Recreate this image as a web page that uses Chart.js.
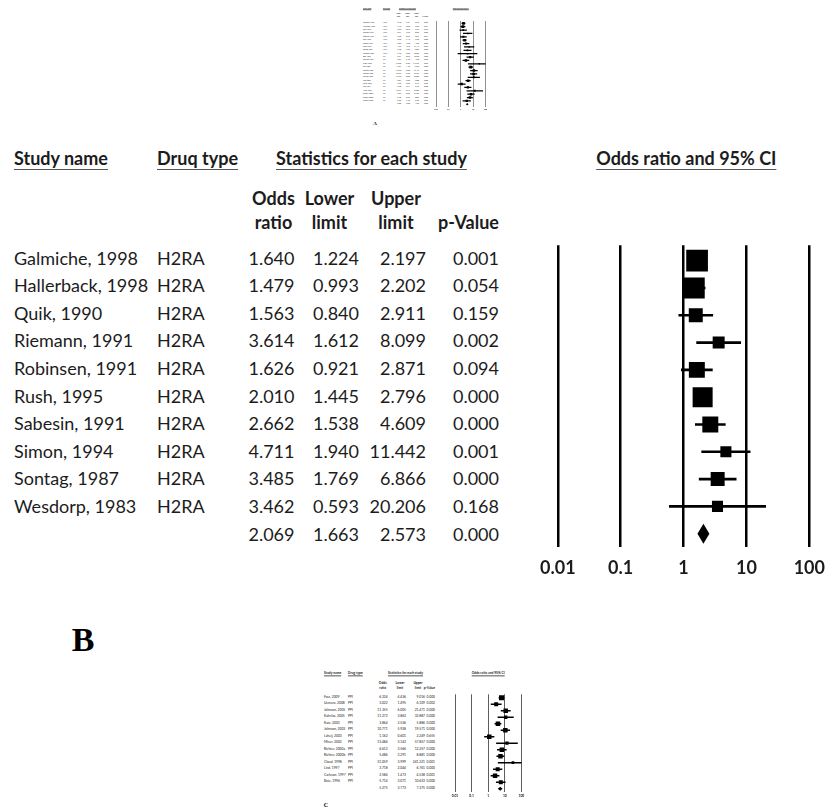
<!DOCTYPE html>
<html>
<head>
<meta charset="utf-8">
<script src="https://cdn.jsdelivr.net/npm/chart.js@4.4.1/dist/chart.umd.min.js"></script>
<style>
html, body { margin: 0; padding: 0; background: #fff; }
#page { position: relative; width: 835px; height: 812px; overflow: hidden; font-family: Lato, "Open Sans", sans-serif; color: #1c1c1c; }
.t { position: absolute; white-space: nowrap; line-height: 1; }
.u { text-decoration: underline; text-decoration-color: #555; }
.lbl { position: absolute; font-family: "Liberation Serif", "Times New Roman", serif; font-weight: bold; line-height: 1; color: #000; }
canvas { position: absolute; }
</style>
</head>
<body>
<div id="page"></div>
<script>
// axis
const xTickValues = [0.01, 0.1, 1, 10, 100];
const xTickLabels = ['0.01', '0.1', '1', '10', '100'];

// B - H2RA
const studiesB = ['Galmiche, 1998', 'Hallerback, 1998', 'Quik, 1990', 'Riemann, 1991', 'Robinsen, 1991', 'Rush, 1995', 'Sabesin, 1991', 'Simon, 1994', 'Sontag, 1987', 'Wesdorp, 1983'];
const drugB = ['H2RA', 'H2RA', 'H2RA', 'H2RA', 'H2RA', 'H2RA', 'H2RA', 'H2RA', 'H2RA', 'H2RA'];
const oddsB = [1.640, 1.479, 1.563, 3.614, 1.626, 2.010, 2.662, 4.711, 3.485, 3.462];
const lowerB = [1.224, 0.993, 0.840, 1.612, 0.921, 1.445, 1.538, 1.940, 1.769, 0.593];
const upperB = [2.197, 2.202, 2.911, 8.099, 2.871, 2.796, 4.609, 11.442, 6.866, 20.206];
const pB = [0.001, 0.054, 0.159, 0.002, 0.094, 0.000, 0.000, 0.001, 0.000, 0.168];
const weightB = [18.1, 16.9, 7.5, 5.5, 9.8, 15.4, 9.8, 4.7, 7.5, 4.7];
const pooledB = [2.069, 1.663, 2.573, 0.000]; // odds, lower, upper, p

// C - PPI
const studiesC = ['Fass, 2009', 'Uemura, 2008', 'Johnson, 2005', 'Kahrilas, 2005', 'Katz, 2003', 'Johnson, 2003', 'Laheij, 2003', 'Miner, 2002', 'Richter, 2000a', 'Richter, 2000b', 'Cloud, 1998', 'Lind, 1997', 'Carlsson, 1997', 'Bate, 1996'];
const drugC = ['PPI', 'PPI', 'PPI', 'PPI', 'PPI', 'PPI', 'PPI', 'PPI', 'PPI', 'PPI', 'PPI', 'PPI', 'PPI', 'PPI'];
const oddsC = [6.324, 3.022, 11.355, 11.272, 3.864, 10.771, 1.162, 13.484, 6.612, 5.486, 31.059, 3.718, 2.584, 5.714];
const lowerC = [4.436, 1.495, 6.005, 3.863, 2.536, 5.928, 0.601, 3.142, 3.566, 3.291, 3.999, 2.044, 1.473, 3.071];
const upperC = [9.016, 6.109, 21.471, 32.887, 5.886, 19.571, 2.249, 57.857, 12.257, 8.881, 241.221, 6.761, 4.538, 10.633];
const pC = [0.000, 0.002, 0.000, 0.000, 0.000, 0.000, 0.655, 0.000, 0.000, 0.000, 0.001, 0.000, 0.001, 0.000];
const weightC = [10.3, 6.6, 8.2, 4.9, 8.2, 8.2, 8.2, 4.5, 8.2, 8.2, 2.9, 6.6, 8.2, 6.6];
const pooledC = [5.275, 3.773, 7.375, 0.000];

// A - all studies
const studiesA = ['Galmiche, 1998', 'Hallerback, 1998', 'Quik, 1990', 'Riemann, 1991', 'Robinsen, 1991', 'Rush, 1995', 'Sabesin, 1991', 'Simon, 1994', 'Sontag, 1987', 'Wesdorp, 1983',
  'Bate, 1996', 'Carlsson, 1997', 'Cloud, 1998', 'Fass, 2009', 'Johnson, 2005', 'Johnson, 2003', 'Kahrilas, 2005', 'Katz, 2003', 'Laheij, 2003', 'Lind, 1997', 'Miner, 2002', 'Richter, 2000a', 'Richter, 2000b', 'Uemura, 2008'];
const drugA = ['H2RA', 'H2RA', 'H2RA', 'H2RA', 'H2RA', 'H2RA', 'H2RA', 'H2RA', 'H2RA', 'H2RA',
  'PPI', 'PPI', 'PPI', 'PPI', 'PPI', 'PPI', 'PPI', 'PPI', 'PPI', 'PPI', 'PPI', 'PPI', 'PPI', 'PPI'];
const oddsA = [1.640, 1.479, 1.563, 3.614, 1.626, 2.010, 2.662, 4.711, 3.485, 3.462,
  5.714, 2.584, 31.059, 6.324, 11.355, 10.771, 11.272, 3.864, 1.162, 3.718, 13.484, 6.612, 5.486, 3.022];
const lowerA = [1.224, 0.993, 0.840, 1.612, 0.921, 1.445, 1.538, 1.940, 1.769, 0.593,
  3.071, 1.473, 3.999, 4.436, 6.005, 5.928, 3.863, 2.536, 0.601, 2.044, 3.142, 3.566, 3.291, 1.495];
const upperA = [2.197, 2.202, 2.911, 8.099, 2.871, 2.796, 4.609, 11.442, 6.866, 20.206,
  10.633, 4.538, 241.221, 9.016, 21.471, 19.571, 32.887, 5.886, 2.249, 6.761, 57.857, 12.257, 8.881, 6.109];
const pA = [0.001, 0.054, 0.159, 0.002, 0.094, 0.000, 0.000, 0.001, 0.000, 0.168,
  0.000, 0.001, 0.001, 0.000, 0.000, 0.000, 0.000, 0.000, 0.655, 0.000, 0.000, 0.000, 0.000, 0.002];
const weightA = [6.5, 6.1, 2.7, 2.0, 3.5, 5.5, 3.5, 1.7, 2.7, 1.7,
  4.2, 5.3, 1.9, 6.6, 5.3, 5.3, 3.1, 5.3, 5.3, 4.2, 2.9, 5.3, 5.3, 4.2];
const pooledA = [3.285, 2.590, 4.166, 0.000];

const page = document.getElementById('page');

function addText(x, y, s, size, o) {
  o = o || {};
  const el = document.createElement('span');
  el.className = 't' + (o.u ? ' u' : '');
  el.textContent = s;
  el.style.left = x + 'px';
  el.style.top = y + 'px';
  el.style.fontSize = size + 'px';
  if (o.bold) el.style.fontWeight = 'bold';
  if (o.u) {
    el.style.textUnderlineOffset = (size * 0.22) + 'px';
    el.style.textDecorationThickness = (size * 0.07) + 'px';
  }
  const tx = o.align === 'right' ? '-100%' : o.align === 'center' ? '-50%' : '0';
  el.style.transform = 'translate(' + tx + ', -50%)';
  page.appendChild(el);
}

function addLabel(x, y, s, size) {
  const el = document.createElement('span');
  el.className = 'lbl';
  el.textContent = s;
  el.style.left = x + 'px';
  el.style.top = y + 'px';
  el.style.fontSize = size + 'px';
  el.style.transform = 'translate(-50%, -50%)';
  page.appendChild(el);
}

// draws the summary diamond through the chart scales
const diamondPlugin = {
  id: 'diamond',
  afterDatasetsDraw(chart, args, opts) {
    const xs = chart.scales.x, ys = chart.scales.y, ctx = chart.ctx;
    const yc = ys.getPixelForValue(opts.row);
    ctx.save();
    ctx.beginPath();
    ctx.moveTo(xs.getPixelForValue(opts.lower), yc);
    ctx.lineTo(xs.getPixelForValue(opts.odds), yc - opts.half);
    ctx.lineTo(xs.getPixelForValue(opts.upper), yc);
    ctx.lineTo(xs.getPixelForValue(opts.odds), yc + opts.half);
    ctx.closePath();
    ctx.fillStyle = '#000';
    ctx.fill();
    ctx.restore();
  }
};

function forestPanel(L, d) {
  const n = d.names.length;
  const rowY = i => L.rowY0 + i * L.rowH;
  const fs = L.font;

  // headers
  addText(L.colName, L.hdrY, 'Study name', fs, { bold: true, u: true });
  addText(L.colDrug, L.hdrY, L.drugTitle, fs, { bold: true, u: true });
  addText(L.colStats, L.hdrY, 'Statistics for each study', fs, { bold: true, u: true });
  addText(L.ciTitleX, L.hdrY, 'Odds ratio and 95% CI', fs, { bold: true, u: true, align: 'center' });
  [['Odds', 'ratio'], ['Lower', 'limit'], ['Upper', 'limit']].forEach((h, k) => {
    addText(L.subX[k], L.subY[0], h[0], fs, { bold: true, align: 'center' });
    addText(L.subX[k], L.subY[1], h[1], fs, { bold: true, align: 'center' });
  });
  addText(L.numX[3], L.subY[1], 'p-Value', fs, { bold: true, align: 'right' });

  // table rows
  for (let i = 0; i < n; i++) {
    addText(L.colName, rowY(i), d.names[i], fs);
    addText(L.colDrug, rowY(i), d.drugs[i], fs);
    [d.odds[i], d.lower[i], d.upper[i], d.p[i]].forEach((v, k) => {
      addText(L.numX[k], rowY(i), v.toFixed(3), fs, { align: 'right' });
    });
  }
  d.pooled.forEach((v, k) => addText(L.numX[k], rowY(n), v.toFixed(3), fs, { align: 'right' }));

  // plot
  const cv = document.createElement('canvas');
  cv.width = L.cw; cv.height = L.ch;
  cv.style.left = L.cx + 'px'; cv.style.top = L.cy + 'px';
  cv.style.width = L.cw + 'px'; cv.style.height = L.ch + 'px';
  page.appendChild(cv);
  const A = L.area;
  const axisH = L.cy + L.ch - A.bottom;

  new Chart(cv.getContext('2d'), {
    type: 'scatter',
    data: {
      datasets: [
        {
          type: 'bar',
          indexAxis: 'y',
          data: d.odds.map((v, i) => ({ y: i, x: [d.lower[i], d.upper[i]] })),
          backgroundColor: '#000',
          borderWidth: 0,
          barThickness: L.ciW,
          grouped: false
        },
        {
          type: 'scatter',
          data: d.odds.map((v, i) => ({ x: v, y: i })),
          pointStyle: 'rect',
          pointRadius: d.weight.map(w => Math.sqrt(w * L.boxK) / Math.SQRT2),
          pointBackgroundColor: '#000',
          pointBorderWidth: 0
        }
      ]
    },
    options: {
      responsive: false,
      animation: false,
      events: [],
      layout: { padding: { left: A.left - L.cx, right: L.cx + L.cw - A.right, top: A.top - L.cy, bottom: 0 } },
      plugins: {
        legend: { display: false },
        tooltip: { enabled: false },
        diamond: { row: n, odds: d.pooled[0], lower: d.pooled[1], upper: d.pooled[2], half: L.diamondH }
      },
      scales: {
        x: {
          type: 'logarithmic',
          min: xTickValues[0],
          max: xTickValues[xTickValues.length - 1],
          offset: false,
          afterBuildTicks: s => { s.ticks = xTickValues.map(v => ({ value: v })); },
          afterFit: s => { s.height = axisH; },
          ticks: {
            autoSkip: false,
            maxRotation: 0,
            padding: L.tickPad,
            color: '#1c1c1c',
            font: { family: 'Lato', weight: 'bold', size: L.tickFont },
            callback: (v, i) => xTickLabels[i]
          },
          grid: { color: L.gridColor, lineWidth: L.gridW, drawTicks: false, offset: false },
          border: { display: false }
        },
        y: {
          type: 'linear',
          display: false,
          reverse: true,
          offset: false,
          min: (A.top - L.rowY0) / L.rowH,
          max: (A.bottom - L.rowY0) / L.rowH,
          grid: { offset: false }
        }
      }
    },
    plugins: [diamondPlugin]
  });
}

// panel A thumbnail
forestPanel({
  font: 1.6, hdrY: 9.3, colName: 363, colDrug: 383, colStats: 399, ciTitleX: 460.8,
  drugTitle: 'Drug type', subY: [14, 17.3], subX: [398.5, 407.5, 416.5], numX: [401.3, 410, 419, 428],
  rowY0: 23.3, rowH: 3.375,
  cx: 425, cy: 15, cw: 70, ch: 100, area: { left: 436, right: 485.6, top: 21, bottom: 107.3 },
  tickFont: 1.8, tickPad: 1, gridW: 0.6, gridColor: '#444', ciW: 0.5, boxK: 1.2, diamondH: 1.3
}, { names: studiesA, drugs: drugA, odds: oddsA, lower: lowerA, upper: upperA, p: pA, weight: weightA, pooled: pooledA });
addLabel(375, 123, 'A', 5);

// panel B main
forestPanel({
  font: 18, hdrY: 158, colName: 14, colDrug: 157, colStats: 276, ciTitleX: 686.3,
  drugTitle: 'Druq type', subY: [198.3, 221.7], subX: [273.5, 329.5, 396], numX: [294.5, 359, 426, 499],
  rowY0: 257.5, rowH: 27.6,
  cx: 530, cy: 230, cw: 305, ch: 352, area: { left: 555.7, right: 816.7, top: 242, bottom: 547 },
  tickFont: 18, tickPad: 10, gridW: 2.5, gridColor: '#000', ciW: 2, boxK: 26, diamondH: 10
}, { names: studiesB, drugs: drugB, odds: oddsB, lower: lowerB, upper: upperB, p: pB, weight: weightB, pooled: pooledB });
addLabel(83, 640, 'B', 34);

// panel C thumbnail
forestPanel({
  font: 3.3, hdrY: 674.3, colName: 324, colDrug: 348, colStats: 388, ciTitleX: 488.2,
  drugTitle: 'Drug type', subY: [683.7, 689], subX: [382.7, 400, 418], numX: [387.7, 406, 425, 435],
  rowY0: 697.7, rowH: 6.5,
  cx: 440, cy: 688, cw: 95, ch: 115, area: { left: 455, right: 521.4, top: 694.3, bottom: 791.7 },
  tickFont: 3.3, tickPad: 2, gridW: 0.8, gridColor: '#333', ciW: 0.7, boxK: 2.43, diamondH: 2
}, { names: studiesC, drugs: drugC, odds: oddsC, lower: lowerC, upper: upperC, p: pC, weight: weightC, pooled: pooledC });
addLabel(326, 805, 'C', 6);
</script>
</body>
</html>
